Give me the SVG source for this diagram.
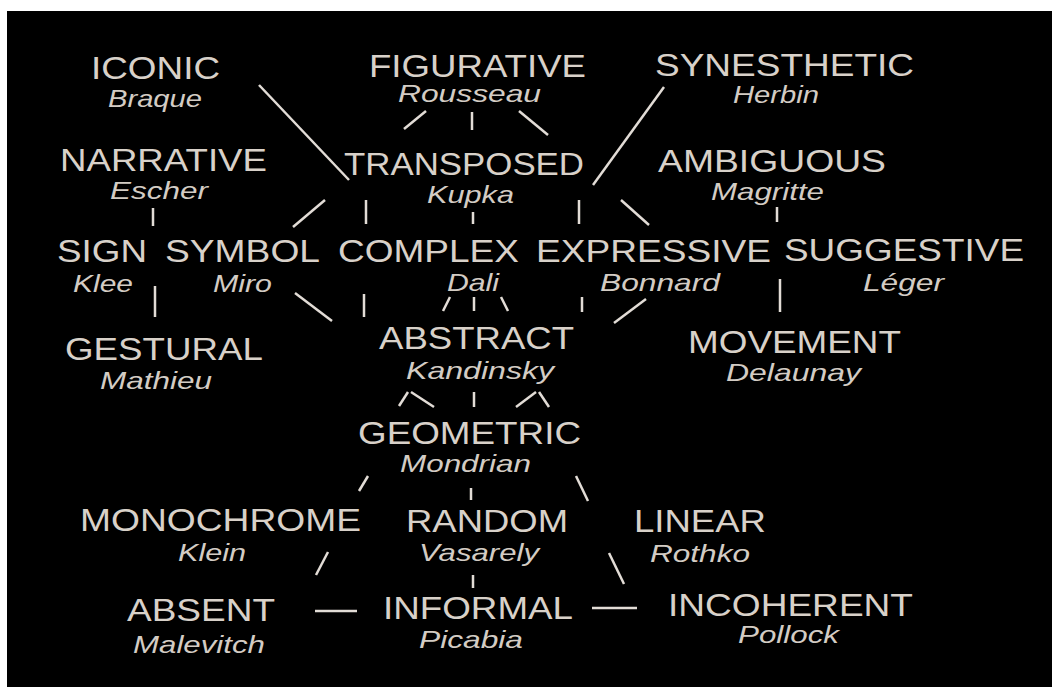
<svg xmlns="http://www.w3.org/2000/svg" width="1052" height="687" viewBox="0 0 1052 687">
<style>
.bg{fill:#000}
.t{font-family:"Liberation Sans",Arial,sans-serif;font-size:32px;fill:#d8d1c9}
.s{font-family:"Liberation Sans",Arial,sans-serif;font-size:24px;font-style:italic;fill:#d3ccc4}
.c line{stroke:#e2dcd6;stroke-width:2.5;stroke-linecap:butt}
</style>
<rect x="0" y="0" width="1052" height="687" fill="#fff"/>
<rect class="bg" x="7" y="11" width="1045" height="676"/>
<g id="connectors" class="c">
<line x1="259" y1="85" x2="349" y2="180"/>
<line x1="664" y1="87" x2="593" y2="185"/>
<line x1="426" y1="111" x2="404" y2="129"/>
<line x1="472" y1="112" x2="472" y2="130"/>
<line x1="519" y1="111" x2="548" y2="135"/>
<line x1="153" y1="208" x2="153" y2="226"/>
<line x1="325" y1="200" x2="293" y2="227"/>
<line x1="366" y1="200" x2="366" y2="224"/>
<line x1="473" y1="212" x2="473" y2="224"/>
<line x1="579" y1="200" x2="579" y2="224"/>
<line x1="621" y1="200" x2="649" y2="225"/>
<line x1="777" y1="207" x2="777" y2="222"/>
<line x1="155" y1="286" x2="155" y2="317"/>
<line x1="295" y1="293" x2="332" y2="321"/>
<line x1="364" y1="294" x2="364" y2="317"/>
<line x1="450" y1="297" x2="443" y2="311"/>
<line x1="474" y1="297" x2="474" y2="311"/>
<line x1="501" y1="297" x2="508" y2="311"/>
<line x1="582" y1="297" x2="582" y2="312"/>
<line x1="646" y1="299" x2="614" y2="323"/>
<line x1="780" y1="279" x2="780" y2="312"/>
<line x1="408" y1="392" x2="399" y2="406"/>
<line x1="411" y1="392" x2="434" y2="407"/>
<line x1="474" y1="392" x2="474" y2="407"/>
<line x1="536" y1="392" x2="516" y2="407"/>
<line x1="539" y1="392" x2="549" y2="407"/>
<line x1="368" y1="476" x2="359" y2="491"/>
<line x1="471" y1="488" x2="471" y2="500"/>
<line x1="576" y1="476" x2="588" y2="501"/>
<line x1="328" y1="552" x2="316" y2="575"/>
<line x1="473" y1="575" x2="473" y2="588"/>
<line x1="609" y1="553" x2="624" y2="584"/>
<line x1="315" y1="611" x2="357" y2="611"/>
<line x1="592" y1="608" x2="637" y2="608"/>
</g>
<g id="iconic"><text class="t" x="91" y="79" textLength="129" lengthAdjust="spacingAndGlyphs">ICONIC</text><text class="s" x="108" y="107" textLength="94" lengthAdjust="spacingAndGlyphs">Braque</text></g>
<g id="figurative"><text class="t" x="369" y="77" textLength="217" lengthAdjust="spacingAndGlyphs">FIGURATIVE</text><text class="s" x="398" y="102" textLength="143" lengthAdjust="spacingAndGlyphs">Rousseau</text></g>
<g id="synesthetic"><text class="t" x="655" y="76" textLength="259" lengthAdjust="spacingAndGlyphs">SYNESTHETIC</text><text class="s" x="733" y="103" textLength="86" lengthAdjust="spacingAndGlyphs">Herbin</text></g>
<g id="narrative"><text class="t" x="60" y="171" textLength="207" lengthAdjust="spacingAndGlyphs">NARRATIVE</text><text class="s" x="110" y="199" textLength="98" lengthAdjust="spacingAndGlyphs">Escher</text></g>
<g id="transposed"><text class="t" x="344" y="175" textLength="240" lengthAdjust="spacingAndGlyphs">TRANSPOSED</text><text class="s" x="427" y="203" textLength="87" lengthAdjust="spacingAndGlyphs">Kupka</text></g>
<g id="ambiguous"><text class="t" x="658" y="172" textLength="228" lengthAdjust="spacingAndGlyphs">AMBIGUOUS</text><text class="s" x="711" y="200" textLength="113" lengthAdjust="spacingAndGlyphs">Magritte</text></g>
<g id="sign"><text class="t" x="57" y="262" textLength="90" lengthAdjust="spacingAndGlyphs">SIGN</text><text class="s" x="73" y="292" textLength="60" lengthAdjust="spacingAndGlyphs">Klee</text></g>
<g id="symbol"><text class="t" x="165" y="262" textLength="155" lengthAdjust="spacingAndGlyphs">SYMBOL</text><text class="s" x="213" y="292" textLength="59" lengthAdjust="spacingAndGlyphs">Miro</text></g>
<g id="complex"><text class="t" x="338" y="262" textLength="181" lengthAdjust="spacingAndGlyphs">COMPLEX</text><text class="s" x="447" y="291" textLength="52" lengthAdjust="spacingAndGlyphs">Dali</text></g>
<g id="expressive"><text class="t" x="536" y="262" textLength="235" lengthAdjust="spacingAndGlyphs">EXPRESSIVE</text><text class="s" x="600" y="291" textLength="120" lengthAdjust="spacingAndGlyphs">Bonnard</text></g>
<g id="suggestive"><text class="t" x="784" y="261" textLength="240" lengthAdjust="spacingAndGlyphs">SUGGESTIVE</text><text class="s" x="863" y="291" textLength="81" lengthAdjust="spacingAndGlyphs">Léger</text></g>
<g id="gestural"><text class="t" x="65" y="360" textLength="198" lengthAdjust="spacingAndGlyphs">GESTURAL</text><text class="s" x="100" y="389" textLength="112" lengthAdjust="spacingAndGlyphs">Mathieu</text></g>
<g id="abstract"><text class="t" x="379" y="349" textLength="195" lengthAdjust="spacingAndGlyphs">ABSTRACT</text><text class="s" x="406" y="379" textLength="148" lengthAdjust="spacingAndGlyphs">Kandinsky</text></g>
<g id="movement"><text class="t" x="688" y="353" textLength="213" lengthAdjust="spacingAndGlyphs">MOVEMENT</text><text class="s" x="726" y="381" textLength="135" lengthAdjust="spacingAndGlyphs">Delaunay</text></g>
<g id="geometric"><text class="t" x="358" y="444" textLength="223" lengthAdjust="spacingAndGlyphs">GEOMETRIC</text><text class="s" x="400" y="472" textLength="131" lengthAdjust="spacingAndGlyphs">Mondrian</text></g>
<g id="monochrome"><text class="t" x="80" y="531" textLength="281" lengthAdjust="spacingAndGlyphs">MONOCHROME</text><text class="s" x="178" y="561" textLength="68" lengthAdjust="spacingAndGlyphs">Klein</text></g>
<g id="random"><text class="t" x="406" y="532" textLength="162" lengthAdjust="spacingAndGlyphs">RANDOM</text><text class="s" x="419" y="561" textLength="120" lengthAdjust="spacingAndGlyphs">Vasarely</text></g>
<g id="linear"><text class="t" x="634" y="532" textLength="132" lengthAdjust="spacingAndGlyphs">LINEAR</text><text class="s" x="650" y="562" textLength="100" lengthAdjust="spacingAndGlyphs">Rothko</text></g>
<g id="absent"><text class="t" x="127" y="621" textLength="148" lengthAdjust="spacingAndGlyphs">ABSENT</text><text class="s" x="133" y="653" textLength="132" lengthAdjust="spacingAndGlyphs">Malevitch</text></g>
<g id="informal"><text class="t" x="383" y="619" textLength="190" lengthAdjust="spacingAndGlyphs">INFORMAL</text><text class="s" x="419" y="648" textLength="104" lengthAdjust="spacingAndGlyphs">Picabia</text></g>
<g id="incoherent"><text class="t" x="668" y="616" textLength="245" lengthAdjust="spacingAndGlyphs">INCOHERENT</text><text class="s" x="738" y="643" textLength="101" lengthAdjust="spacingAndGlyphs">Pollock</text></g>
</svg>
